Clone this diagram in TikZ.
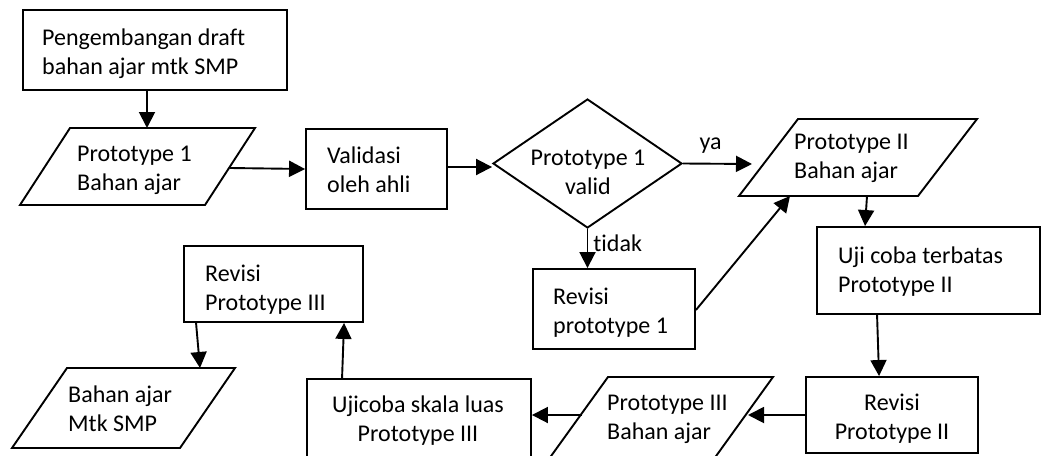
\documentclass[tikz,border=0pt]{standalone}
\usepackage{fontspec}
\setmainfont[Ligatures=NoCommon]{Carlito}
\usetikzlibrary{arrows.meta,shapes.geometric}
\begin{document}
\begin{tikzpicture}[x=1pt,y=-1pt,
  every node/.style={font=\fontsize{24}{29}\selectfont},
  box/.style={draw, line width=1.9pt, inner sep=0pt, rectangle},
  txt/.style={anchor=west, align=left, inner sep=0pt},
  ctxt/.style={align=center, inner sep=0pt},
  shp/.style={draw, line width=1.9pt, line join=miter},
  arr/.style={line width=1.9pt, -{Triangle[length=16pt,width=16pt]}},
]
\fill[white] (0,0) rectangle (1041,455);
\useasboundingbox (0,0) rectangle (1041,455);
\clip (0,0) rectangle (1041,455);

% rectangles
\node[box, minimum width=264pt, minimum height=80pt] (b1) at (155,50) {};
\node[txt] (b1t) at (42,54) {Pengembangan draft\\bahan ajar mtk SMP};

\node[box, minimum width=141pt, minimum height=80pt] (v) at (376.5,169) {};
\node[txt] (vt) at (327,169.5) {Validasi\\oleh ahli};

\node[draw, diamond, line width=1.9pt, minimum width=189pt, minimum height=129pt, inner sep=0pt] (d) at (587.5,163.5) {};
\node[ctxt] (dt) at (588,172) {Prototype 1\\valid};

\node[box, minimum width=223pt, minimum height=87pt] (u) at (928.5,270.5) {};
\node[txt] (ut) at (838,272) {Uji coba terbatas\\Prototype II};

\node[box, minimum width=172pt, minimum height=76pt] (r2) at (892,415) {};
\node[ctxt] (r2t) at (892,419) {Revisi\\Prototype II};

\node[box, minimum width=224pt, minimum height=83pt] (uc) at (419,420.5) {};
\node[ctxt] (uct) at (418,420.5) {Ujicoba skala luas\\Prototype III};

\node[box, minimum width=179pt, minimum height=76pt] (r3) at (273.5,284) {};
\node[txt] (r3t) at (205,290) {Revisi\\Prototype III};

\node[box, minimum width=162pt, minimum height=80pt] (r1) at (614,309) {};
\node[txt] (r1t) at (553,313) {Revisi\\prototype 1};

% parallelograms
\draw[shp] (70,128) -- (255,128) -- (205,205) -- (20,205) -- cycle;
\node[txt] (p1t) at (77,170) {Prototype 1\\Bahan ajar};
\draw[shp] (798,119) -- (977,119) -- (918,196) -- (739,196) -- cycle;
\node[txt] (p2t) at (794,158) {Prototype II\\Bahan ajar};
\draw[shp] (608,377) -- (773,377) -- (706,470) -- (541,470) -- cycle;
\node[txt] (p3t) at (607,419) {Prototype III\\Bahan ajar};
\draw[shp] (67,368) -- (235,368) -- (180,448) -- (12,448) -- cycle;
\node[txt] (p4t) at (68,409) {Bahan ajar\\Mtk SMP};

\coordinate (p1n) at (147,128);
\coordinate (p1e) at (230,168);
\coordinate (yaend) at (752,164);
\coordinate (p2s) at (790,196);
\coordinate (p2b) at (867,196);
\coordinate (p3e) at (748,415);
\coordinate (p3w) at (582,415);
\coordinate (p4n) at (200,368);

% connectors
\draw[arr] ([xshift=-8pt]b1.south) -- (p1n);
\draw[arr] (p1e) -- (v.west);
\draw[arr] ([yshift=2pt]v.east) -- ([yshift=2pt]v.east -| d.west);
\draw[arr] (d.east) -- node[pos=0.4, above=8pt, inner sep=1pt] (ya) {ya} (yaend);
\draw[arr] (d.south) -- node[pos=0.36, anchor=west, inner sep=5pt] (tidak) {tidak} (d.south |- r1.north);
\draw[arr] ([yshift=-1pt]r1.east) -- (p2s);
\draw[arr] (p2b) -- ([xshift=49pt]u.north west);
\draw[arr] ([xshift=61pt]u.south west) -- ([xshift=74pt]r2.north west);
\draw[arr] (r2.west) -- (p3e);
\draw[arr] (p3w) -- (p3w -| uc.east);
\draw[arr] ([xshift=36pt]uc.north west) -- ([xshift=161pt]r3.south west);
\draw[arr] ([xshift=13pt]r3.south west) -- (p4n);
\end{tikzpicture}
\end{document}
